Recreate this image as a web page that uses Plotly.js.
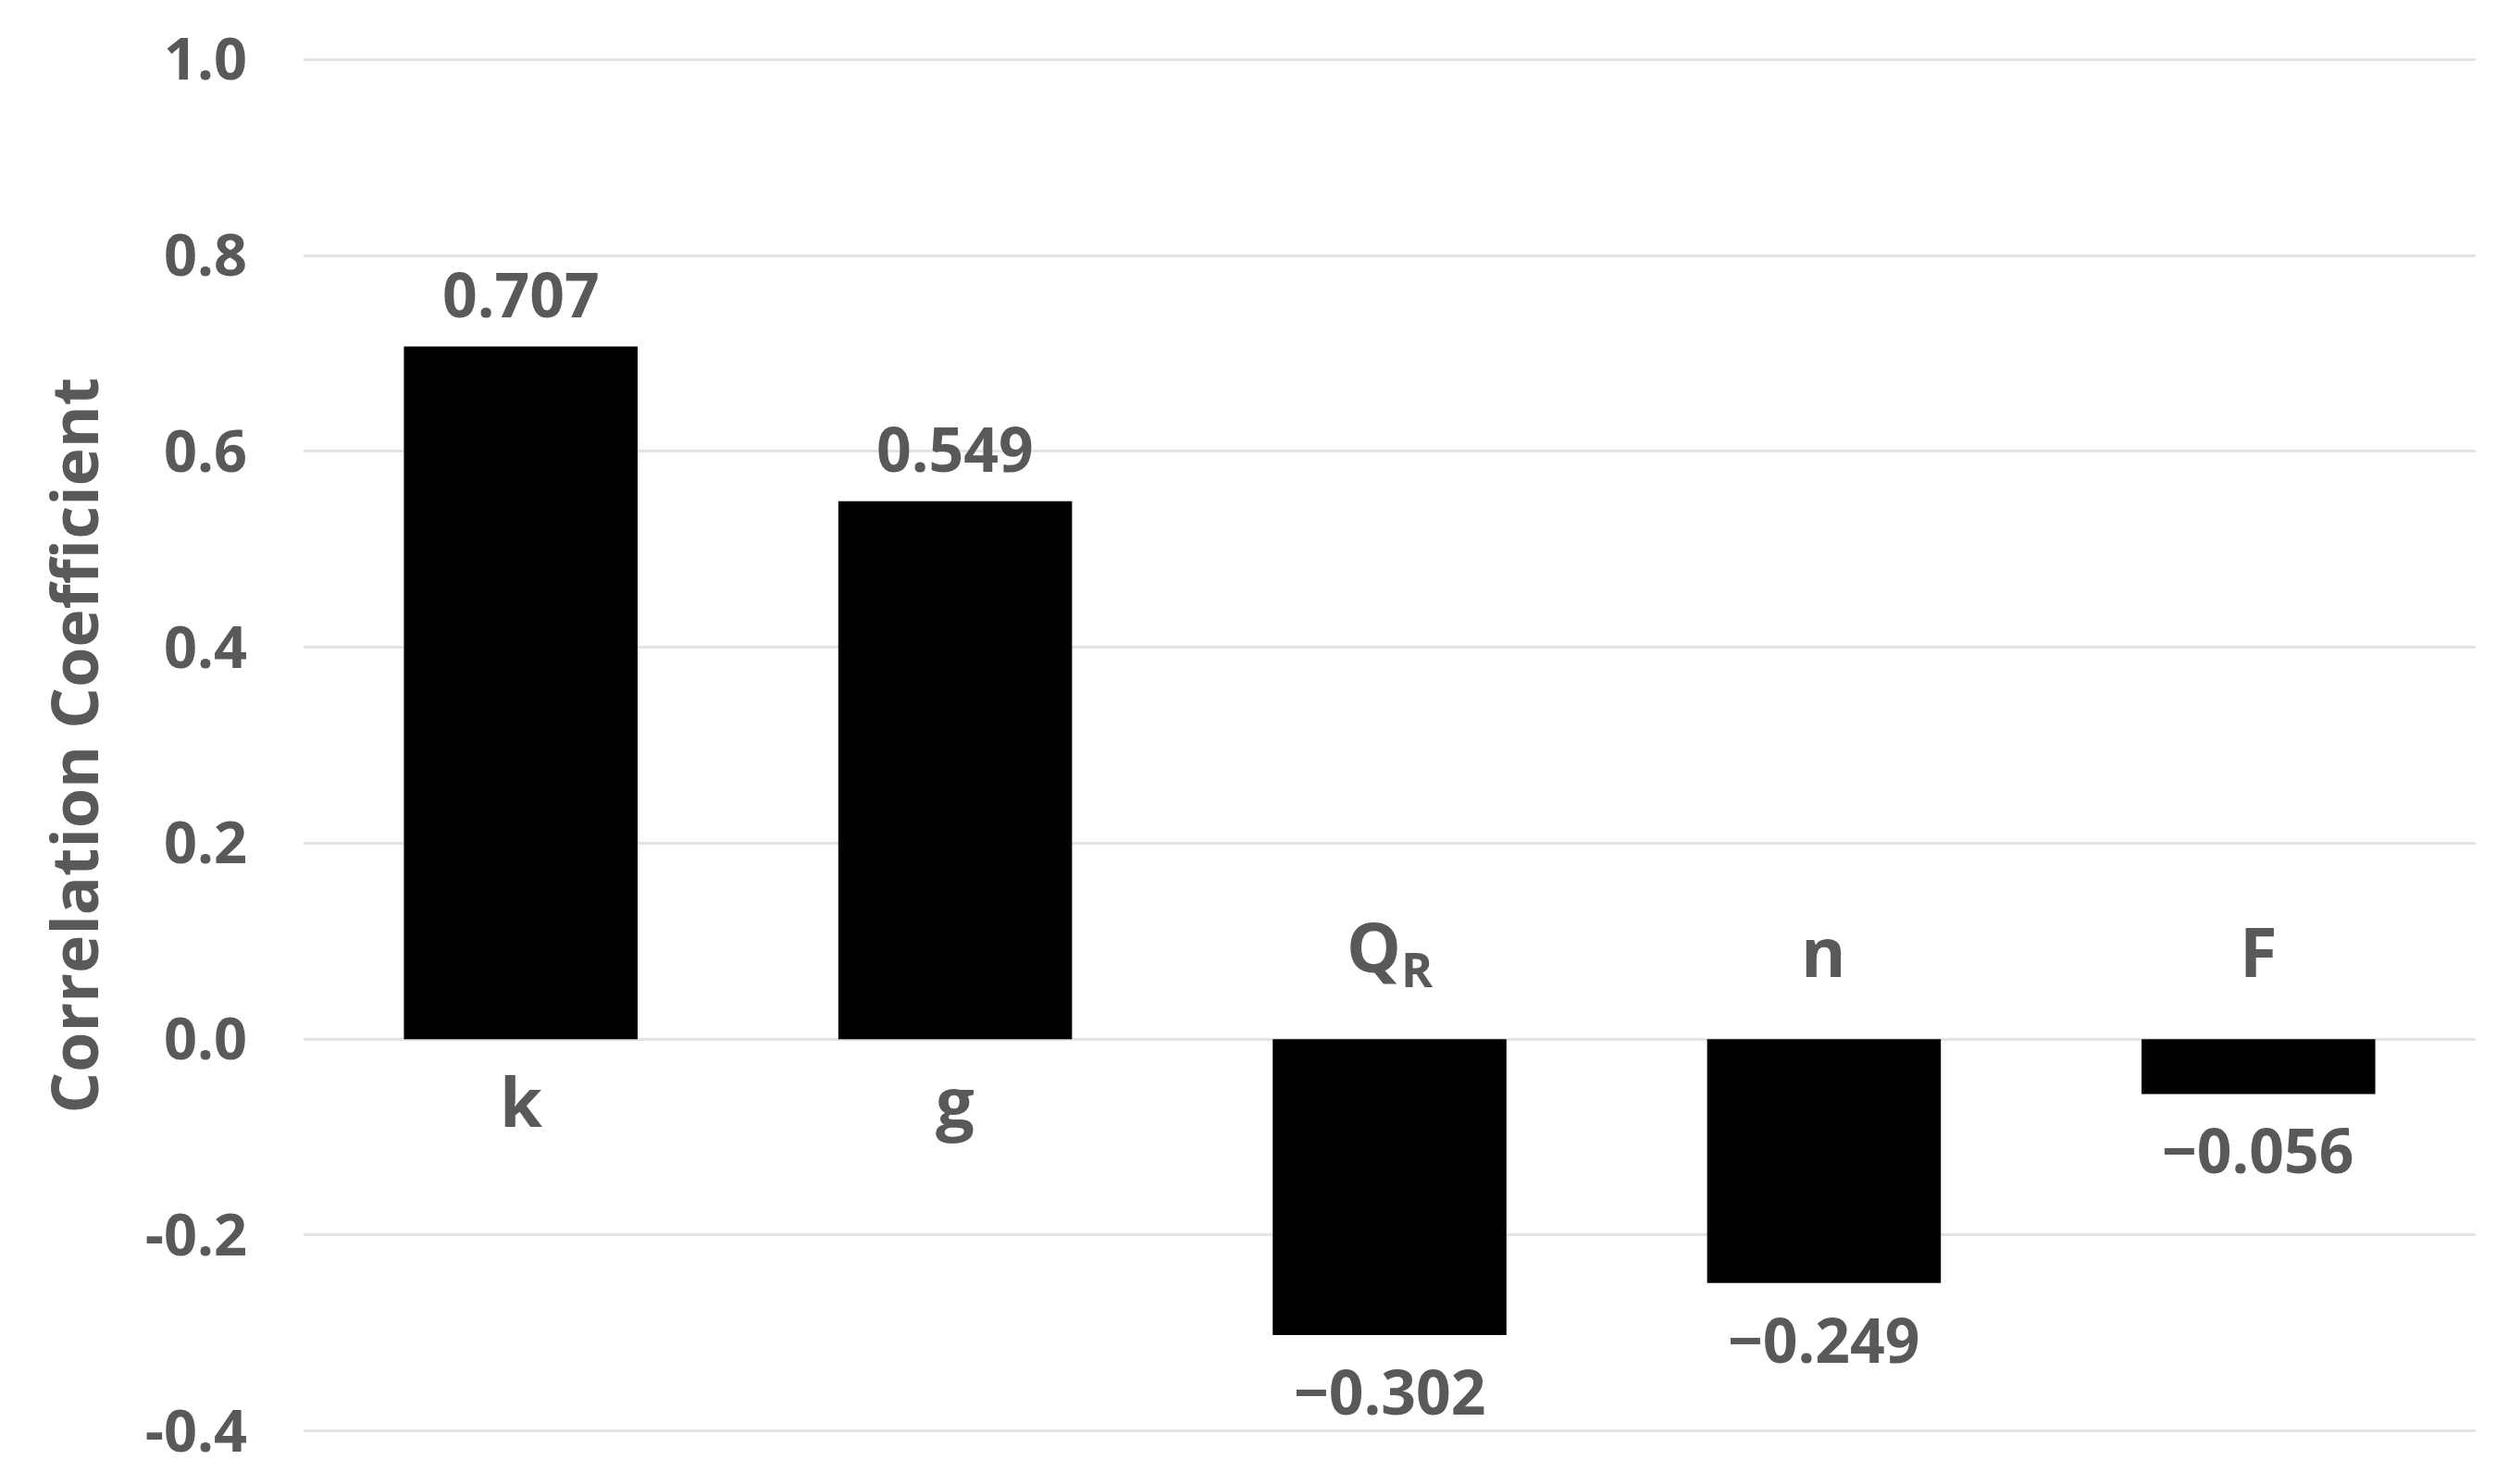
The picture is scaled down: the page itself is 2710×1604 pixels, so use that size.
<!DOCTYPE html>
<html>
<head>
<meta charset="utf-8">
<script src="https://cdn.plot.ly/plotly-3.0.1.min.js"></script>
<style>html,body{margin:0;padding:0;background:#fff;}#chart{width:2710px;height:1604px;}</style>
</head>
<body>
<div id="chart"></div>
<script>
// Data
const categories = ["k", "g", "Q<sub>R</sub>", "n", "F"];
const categoryKeys = ["k", "g", "QR", "n", "F"];
const values = [0.707, 0.549, -0.302, -0.249, -0.056];
const yTickValues = [-0.4, -0.2, 0.0, 0.2, 0.4, 0.6, 0.8, 1.0];
const yTickLabels = ["-0.4", "-0.2", "0.0", "0.2", "0.4", "0.6", "0.8", "1.0"];
const yAxisTitle = "Correlation Coefficient";

const FONT = '"Open Sans", "DejaVu Sans", sans-serif';
const TXT = '#595959';

function fmt(v) {
  return (v < 0 ? '\u2212' : '') + Math.abs(v).toFixed(3);
}

const trace = {
  type: 'bar',
  x: categoryKeys,
  y: values,
  marker: {color: '#000000', line: {width: 0}},
  hoverinfo: 'skip'
};

const annotations = [];
categoryKeys.forEach((c, i) => {
  const v = values[i];
  annotations.push({
    x: c, y: v, xref: 'x', yref: 'y',
    text: fmt(v), showarrow: false,
    xanchor: 'center', yanchor: 'middle',
    yshift: v >= 0 ? 58 : -60,
    font: {family: FONT, size: 66, color: TXT, weight: 'bold'}
  });
  annotations.push({
    x: c, y: 0, xref: 'x', yref: 'y',
    text: categories[i], showarrow: false,
    xanchor: 'center', yanchor: 'middle',
    yshift: v >= 0 ? -66 : 96,
    font: {family: FONT, size: 74, color: TXT, weight: 'bold'}
  });
});
annotations.push({
  xref: 'paper', yref: 'paper', x: 0, y: 0.5,
  xshift: -250, xanchor: 'center', yanchor: 'middle',
  text: yAxisTitle, textangle: -90, showarrow: false,
  font: {family: FONT, size: 70, color: TXT, weight: 'bold'}
});

const layout = {
  width: 2710, height: 1604,
  margin: {l: 328, r: 35, t: 60, b: 53},
  paper_bgcolor: '#ffffff', plot_bgcolor: '#ffffff',
  showlegend: false,
  bargap: 0.462,
  font: {family: FONT, color: TXT},
  xaxis: {
    type: 'category', range: [-0.5, 4.5],
    showticklabels: false, showgrid: false, zeroline: false, showline: false, ticks: ''
  },
  yaxis: {
    range: [-0.404, 1.004],
    tickvals: yTickValues, ticktext: yTickLabels,
    showgrid: true, gridcolor: '#e3e3e3', gridwidth: 3,
    zeroline: false, showline: false, ticks: '',
    ticklabelstandoff: 60,
    tickfont: {family: FONT, size: 63, color: TXT, weight: 'bold'}
  },
  annotations: annotations
};

Plotly.newPlot('chart', [trace], layout, {staticPlot: true, displayModeBar: false});
</script>
</body>
</html>
